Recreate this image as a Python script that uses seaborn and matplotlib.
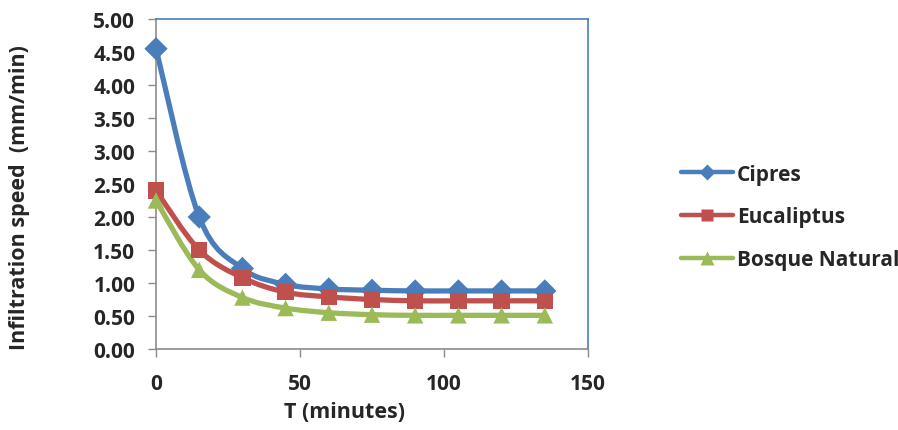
import numpy as np
import pandas as pd
import seaborn as sns
import matplotlib.pyplot as plt
from matplotlib.path import Path
from matplotlib.patches import PathPatch

# Infiltration test readings
minutes = [0, 15, 30, 45, 60, 75, 90, 105, 120, 135]
cipres = [4.55, 2.00, 1.22, 0.98, 0.91, 0.89, 0.88, 0.88, 0.88, 0.88]
eucaliptus = [2.40, 1.50, 1.08, 0.86, 0.79, 0.75, 0.73, 0.73, 0.73, 0.73]
bosque_natural = [2.25, 1.20, 0.78, 0.62, 0.55, 0.52, 0.51, 0.51, 0.51, 0.51]

series_names = ["Cipres", "Eucaliptus", "Bosque Natural"]
series_values = [cipres, eucaliptus, bosque_natural]
colors = ["#4A7EBB", "#C0504D", "#9BBB59"]
markers = ["D", "s", "^"]
legend_marker_sizes = [8, 9, 10]

x_ticks = [0, 50, 100, 150]
y_ticks = [0, 0.5, 1, 1.5, 2, 2.5, 3, 3.5, 4, 4.5, 5]

df = pd.concat(
    [pd.DataFrame({"T": minutes, "v": v, "serie": n}) for n, v in zip(series_names, series_values)],
    ignore_index=True,
)

sns.set_style("white")
plt.rcParams["font.family"] = ["Open Sans", "DejaVu Sans"]
plt.rcParams["font.weight"] = "bold"

W, H = 898, 431
fig = plt.figure(figsize=(W / 100, H / 100), dpi=100)
ax = fig.add_axes([156 / W, 1 - 350 / H, (588 - 156) / W, (350 - 20) / H])


def smooth_path(xs, ys, tension=1 / 6):
    """Cubic Bezier path through the points (Catmull-Rom style smoothing)."""
    pts = np.column_stack([xs, ys]).astype(float)
    verts = [pts[0]]
    codes = [Path.MOVETO]
    n = len(pts)
    for i in range(n - 1):
        p0 = pts[i - 1] if i > 0 else pts[i]
        p1 = pts[i]
        p2 = pts[i + 1]
        p3 = pts[i + 2] if i + 2 < n else pts[i + 1]
        c1 = p1 + (p2 - p0) * tension
        c2 = p2 - (p3 - p1) * tension
        verts += [c1, c2, p2]
        codes += [Path.CURVE4] * 3
    return Path(verts, codes)


for name, vals, col in zip(series_names, series_values, colors):
    ax.add_patch(PathPatch(smooth_path(minutes, vals), facecolor="none",
                           edgecolor=col, lw=3.8, capstyle="round", zorder=2))

sns.scatterplot(data=df, x="T", y="v", hue="serie", style="serie",
                palette=colors, markers=dict(zip(series_names, markers)),
                s=140, edgecolor="none", legend=False, ax=ax, zorder=3, clip_on=False)

ax.set_xlim(0, 150)
ax.set_ylim(0, 5)
ax.set_xticks(x_ticks)
ax.set_yticks(y_ticks)
ax.set_xticklabels([str(t) for t in x_ticks], fontsize=15, fontweight="bold")
ax.set_yticklabels([f"{t:.2f}" for t in y_ticks], fontsize=15, fontweight="bold")
ax.tick_params(axis="both", direction="out", length=6, width=1, color="#8C8C8C")
ax.tick_params(axis="y", pad=9)
ax.tick_params(axis="x", pad=11)
ax.xaxis.set_ticks_position("bottom")
ax.yaxis.set_ticks_position("left")
ax.set_xlabel("")
ax.set_ylabel("")

for side in ["left", "bottom"]:
    ax.spines[side].set_color("#8C8C8C")
    ax.spines[side].set_linewidth(1.2)
for side in ["top", "right"]:
    ax.spines[side].set_color("#4A7EBB")
    ax.spines[side].set_linewidth(1.2)

fig.text(345 / W, 1 - 413 / H, "T (minutes)", fontsize=15.5, fontweight="bold",
         ha="center", va="center")
fig.text(20 / W, 1 - 198 / H, "Infiltration speed  (mm/min)", fontsize=15.5,
         fontweight="bold", rotation=90, ha="center", va="center")

handles = [plt.Line2D([], [], color=c, lw=3.2, marker=m, markersize=ms,
                      markeredgecolor="none")
           for c, m, ms in zip(colors, markers, legend_marker_sizes)]
leg = fig.legend(handles, series_names, loc="center left",
                 bbox_to_anchor=(681 / W, 1 - 218 / H),
                 frameon=False, handlelength=2.5, labelspacing=1.05, handletextpad=0.2,
                 borderpad=0, borderaxespad=0,
                 prop={"size": 15, "weight": "bold"})

fig.savefig("out.png", dpi=100, facecolor="white")
